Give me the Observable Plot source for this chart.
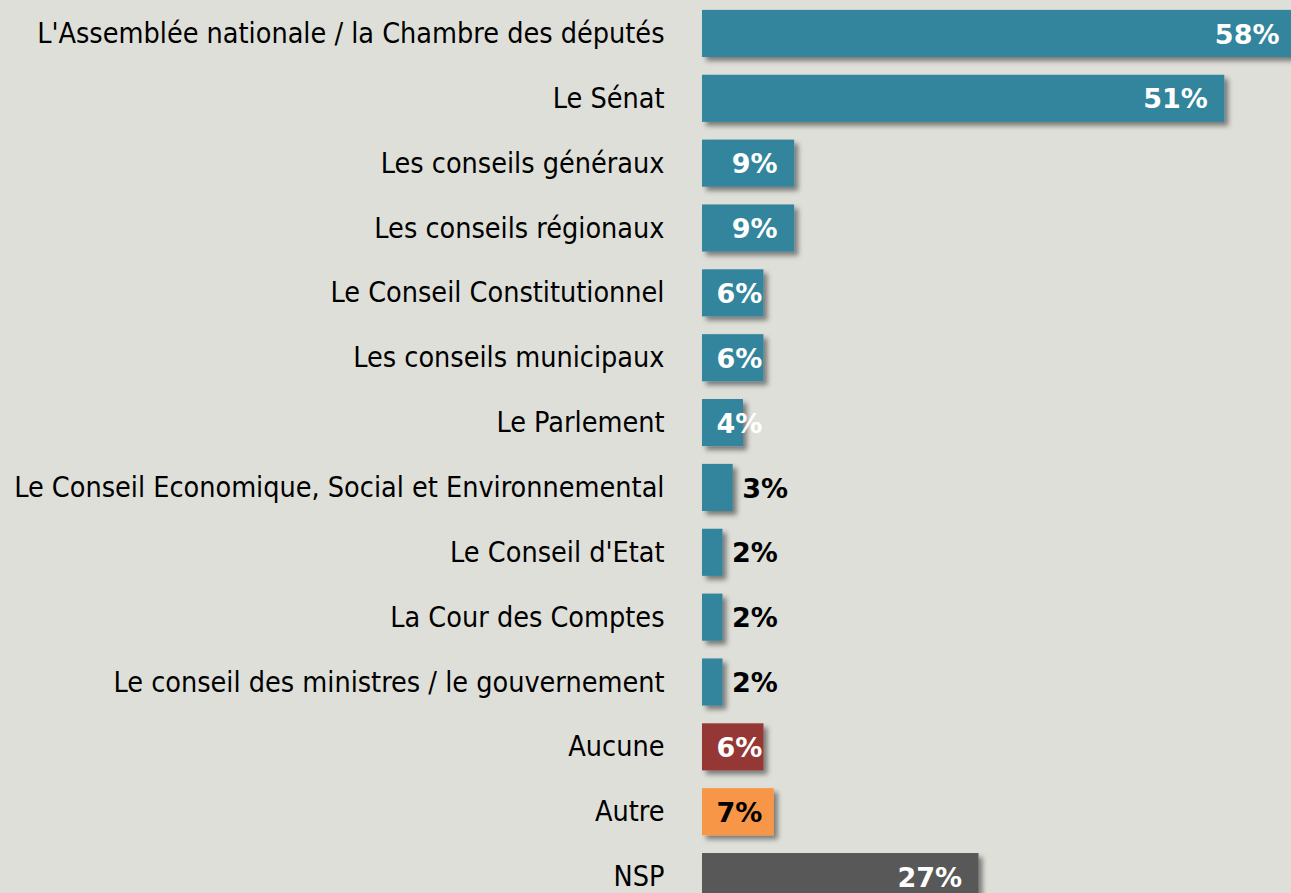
<!DOCTYPE html>
<html>
<head>
<meta charset="utf-8">
<script src="https://cdn.jsdelivr.net/npm/d3@7"></script>
<script src="https://cdn.jsdelivr.net/npm/@observablehq/plot@0.6"></script>
<style>
  html, body { margin: 0; padding: 0; background: #dfdfda; overflow: hidden; }
  #chart svg { display: block; background: #dfdfda; }
</style>
</head>
<body>
<div id="chart"></div>
<script>
const categories = [
  "L'Assemblée nationale / la Chambre des députés",
  "Le Sénat",
  "Les conseils généraux",
  "Les conseils régionaux",
  "Le Conseil Constitutionnel",
  "Les conseils municipaux",
  "Le Parlement",
  "Le Conseil Economique, Social et Environnemental",
  "Le Conseil d'Etat",
  "La Cour des Comptes",
  "Le conseil des ministres / le gouvernement",
  "Aucune",
  "Autre",
  "NSP"
];
const values = [58, 51, 9, 9, 6, 6, 4, 3, 2, 2, 2, 6, 7, 27];
const groups = ["inst","inst","inst","inst","inst","inst","inst","inst","inst","inst","inst","aucune","autre","nsp"];

const data = categories.map((c, i) => ({category: c, value: values[i], group: groups[i]}));

const colorDomain = ["inst", "aucune", "autre", "nsp"];
const colorRange = ["#31859c", "#953735", "#f79646", "#595959"];

const inside = data.filter(d => d.value >= 4);
const outside = data.filter(d => d.value < 4);

const chart = Plot.plot({
  width: 1291,
  height: 910,
  marginTop: 1,
  marginBottom: 1,
  marginLeft: 702,
  marginRight: 0,
  style: {background: "#dfdfda", overflow: "hidden"},
  x: {domain: [0, 58], range: [702, 1296], axis: null},
  y: {domain: categories, paddingInner: 0.274, paddingOuter: 0.137, round: false, label: null},
  color: {domain: colorDomain, range: colorRange},
  marks: [
    Plot.axisY({tickSize: 0, tickPadding: 38, fontSize: 28.5, fontFamily: "DejaVu Sans Condensed", fill: "#000", label: null}),
    Plot.barX(data, {x: "value", y: "category", fill: "group"}),
    Plot.text(inside, {
      x: d => Math.max(d.value, 7.5), y: "category", text: d => d.value + "%",
      textAnchor: "end", dx: -17, dy: 1,
      fill: d => d.group === "autre" ? "#000" : "#fff",
      fontSize: 27, fontWeight: "bold", fontFamily: "DejaVu Sans"
    }),
    Plot.text(outside, {
      x: "value", y: "category", text: d => d.value + "%",
      textAnchor: "start", dx: 9, dy: 1, fill: "#000",
      fontSize: 27, fontWeight: "bold", fontFamily: "DejaVu Sans"
    })
  ]
});

// drop shadow on bars
const ns = "http://www.w3.org/2000/svg";
const defs = document.createElementNS(ns, "defs");
defs.innerHTML = '<filter id="sh" x="-20%" y="-20%" width="150%" height="160%"><feDropShadow dx="4" dy="4" stdDeviation="2.5" flood-color="#000" flood-opacity="0.45"/></filter>';
chart.insertBefore(defs, chart.firstChild);
const barG = chart.querySelector('g[aria-label="bar"]');
if (barG) barG.setAttribute("filter", "url(#sh)");

document.getElementById("chart").appendChild(chart);
</script>
</body>
</html>
